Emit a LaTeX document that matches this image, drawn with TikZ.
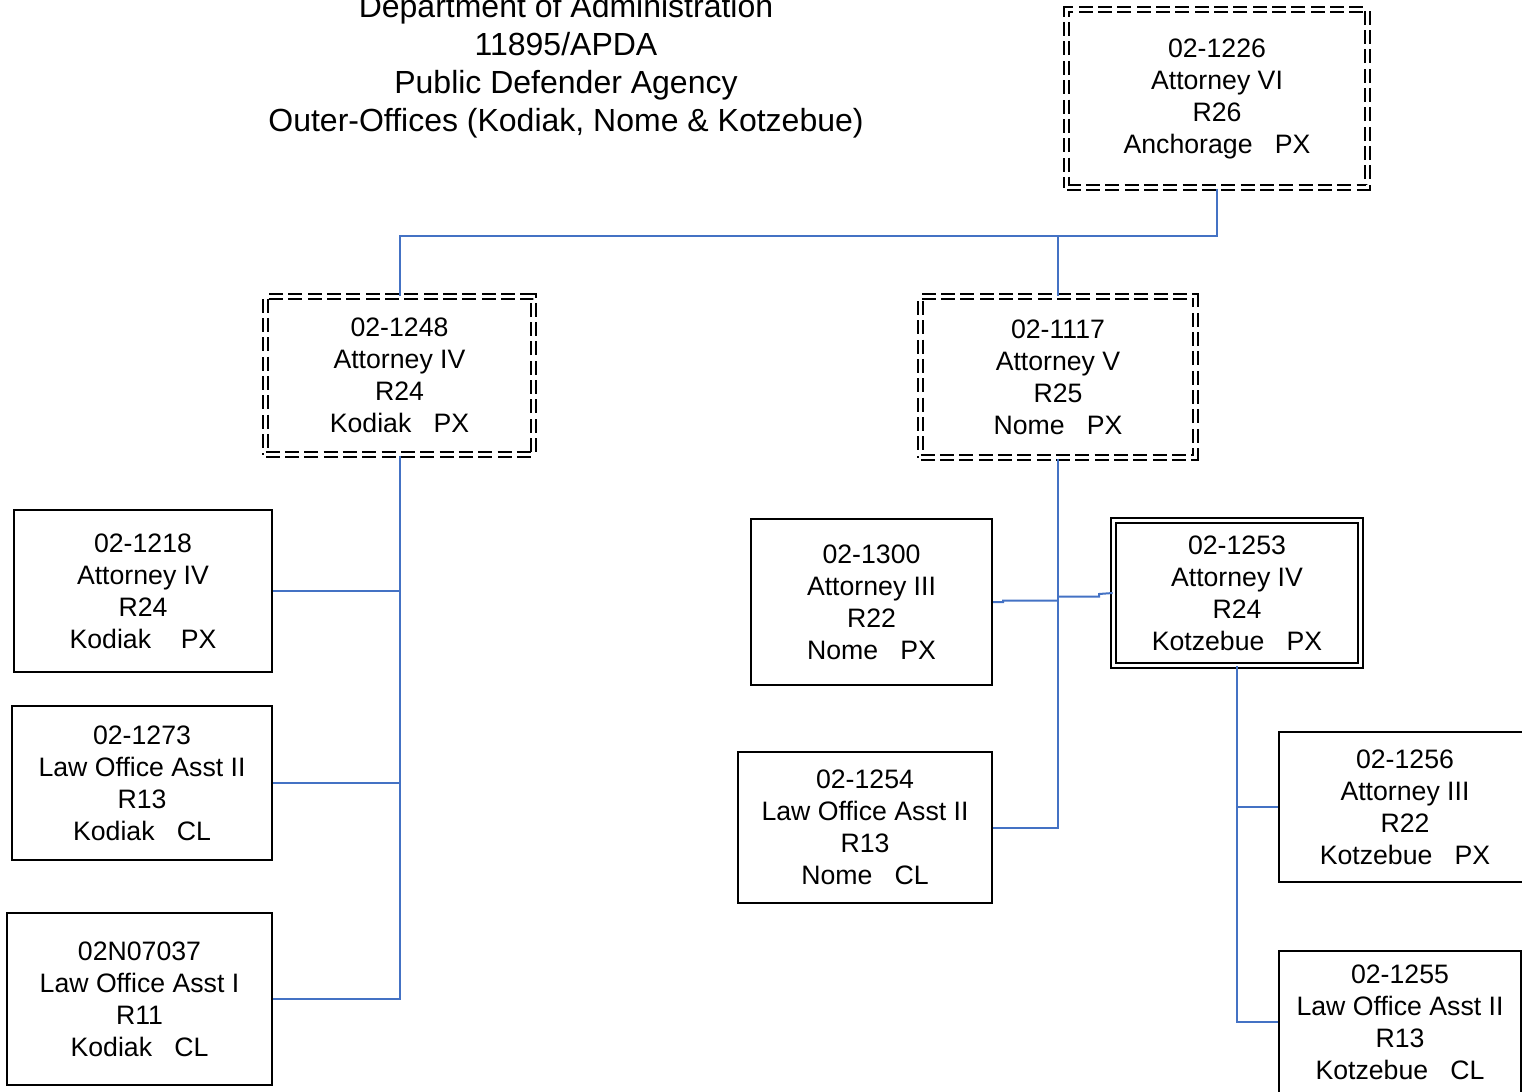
\documentclass[tikz,border=0pt]{standalone}
\usepackage{fontspec}
\setmainfont{Liberation Sans}
\newcommand\pxu{0.75pt}
\begin{document}
\begin{tikzpicture}[x=0.75pt,y=-0.75pt,
  box/.style={draw=black,line width=1.5pt,fill=white,align=center,inner sep=0pt,
    font={\fontsize{20pt}{24pt}\selectfont}},
  dbox/.style={box,line width=1.5pt,double=white,double distance=2.2pt,
    dash pattern=on 10.5pt off 4pt},
  sbox/.style={box,line width=1.3pt,double=white,double distance=2.3pt},
  wire/.style={draw={rgb,255:red,68;green,114;blue,196},line width=1.5pt}]
\useasboundingbox (0,0) rectangle (1522,1092);
\node[align=center,font={\fontsize{24pt}{28.5pt}\selectfont}] (title) at (566,66)
  {Department of Administration\\11895/APDA\\Public Defender Agency\\Outer-Offices (Kodiak, Nome \& Kotzebue)};
\coordinate (j1) at (1217,236);
\coordinate (j2) at (1058,236);
\node[dbox,minimum width=301*\pxu,minimum height=178*\pxu] (t1226) at (1217,98.5)
  {02-1226\\Attorney VI\\R26\\Anchorage~~~PX};
\node[dbox,minimum width=268*\pxu,minimum height=158*\pxu] (n1248) at (399.5,375.5)
  {02-1248\\Attorney IV\\R24\\Kodiak~~~PX};
\node[dbox,minimum width=275*\pxu,minimum height=161*\pxu] (n1117) at (1058,377)
  {02-1117\\Attorney V\\R25\\Nome~~~PX};
\node[box,minimum width=258*\pxu,minimum height=162*\pxu] (n1218) at (143,591)
  {02-1218\\Attorney IV\\R24\\Kodiak~~~~PX};
\node[box,minimum width=260*\pxu,minimum height=154*\pxu] (n1273) at (142,783)
  {02-1273\\Law Office Asst II\\R13\\Kodiak~~~CL};
\node[box,minimum width=265*\pxu,minimum height=172*\pxu] (n07037) at (139.5,999)
  {02N07037\\Law Office Asst I\\R11\\Kodiak~~~CL};
\node[box,minimum width=241*\pxu,minimum height=166*\pxu] (n1300) at (871.5,602)
  {02-1300\\Attorney III\\R22\\Nome~~~PX};
\node[sbox,minimum width=247*\pxu,minimum height=145*\pxu] (n1253) at (1237,593)
  {02-1253\\Attorney IV\\R24\\Kotzebue~~~PX};
\node[box,minimum width=254*\pxu,minimum height=151*\pxu] (n1254) at (865,827.5)
  {02-1254\\Law Office Asst II\\R13\\Nome~~~CL};
\node[box,minimum width=252*\pxu,minimum height=150*\pxu] (n1256) at (1405,807)
  {02-1256\\Attorney III\\R22\\Kotzebue~~~PX};
\node[box,minimum width=242*\pxu,minimum height=142*\pxu] (n1255) at (1400,1022)
  {02-1255\\Law Office Asst II\\R13\\Kotzebue~~~CL};
% jog points
\coordinate (k1) at (1003,602);
\coordinate (k2) at (1099,594);
% connectors
\draw[wire] (t1226.south) -- (j1) -| (n1248.north);
\draw[wire] (j2) -- (n1117.north);
\draw[wire] (n1248.south) |- (n07037.east);
\draw[wire] (n1218.east) -- (n1218.east -| n1248.south);
\draw[wire] (n1273.east) -- (n1273.east -| n1248.south);
\draw[wire] (n1117.south) |- (n1254.east);
\draw[wire] (n1300.east) -- (k1) -- ++(0,-1.5) -- ([yshift=1.1pt]k1 -| n1117.south);
\draw[wire] (n1253.west) -- (k2) -- ++(0,2.5) -- ([yshift=-1.9pt]k2 -| n1117.south);
\draw[wire] (n1253.south) |- (n1255.west);
\draw[wire] (n1256.west) -- (n1256.west -| n1253.south);
\end{tikzpicture}
\end{document}
